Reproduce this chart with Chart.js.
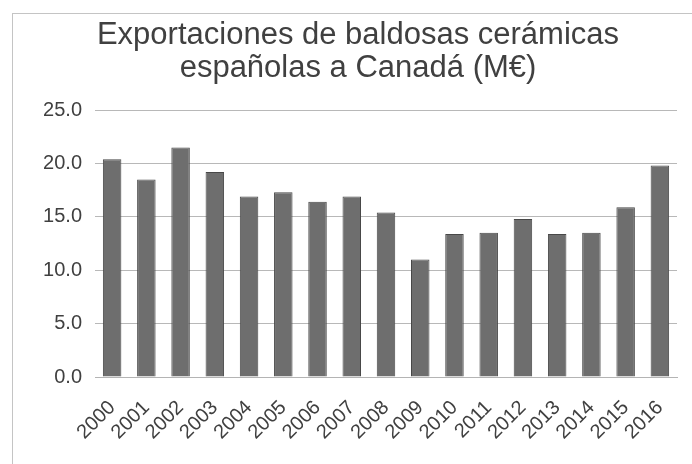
<!DOCTYPE html>
<html>
<head>
<meta charset="utf-8">
<script src="https://cdn.jsdelivr.net/npm/chart.js@4"></script>
<style>
html,body{margin:0;padding:0;background:#fff;overflow:hidden;}
#wrap{width:714px;height:464px;position:relative;}
</style>
</head>
<body>
<div id="wrap"><canvas id="c"></canvas></div>
<script>
const titleLines = ['Exportaciones de baldosas cerámicas', 'españolas a Canadá (M€)'];
const years = ['2000','2001','2002','2003','2004','2005','2006','2007','2008','2009','2010','2011','2012','2013','2014','2015','2016'];
const exportsMEur = [20.4, 18.5, 21.5, 19.2, 16.9, 17.3, 16.4, 16.9, 15.4, 11.0, 13.4, 13.5, 14.8, 13.4, 13.5, 15.9, 19.8];
const yTicks = [0, 5, 10, 15, 20, 25];

const frame = {
  id: 'frame',
  beforeDraw(chart) {
    const ctx = chart.ctx;
    ctx.save();
    ctx.fillStyle = '#fff';
    ctx.fillRect(0, 0, chart.width, chart.height);
    ctx.strokeStyle = '#c4c4c4';
    ctx.lineWidth = 1;
    ctx.strokeRect(12.5, 13.5, 690, 520);
    ctx.restore();
  }
};

const font = "'Liberation Sans', Arial, sans-serif";
new Chart(document.getElementById('c'), {
  type: 'bar',
  data: {
    labels: years,
    datasets: [{
      data: exportsMEur,
      backgroundColor: '#6e6e6e',
      borderColor: '#484848',
      borderWidth: 1,
      barPercentage: 0.54,
      categoryPercentage: 1
    }]
  },
  options: {
    responsive: true,
    maintainAspectRatio: false,
    animation: false,
    devicePixelRatio: 1,
    layout: { padding: { left: 12, right: 10, top: 13, bottom: 0 } },
    plugins: {
      legend: { display: false },
      tooltip: { enabled: false },
      title: {
        display: true,
        text: titleLines,
        color: '#404040',
        font: { family: font, size: 31, weight: 'normal', lineHeight: 1.07 },
        padding: { top: 6, bottom: 24.7 }
      }
    },
    scales: {
      x: {
        grid: { display: false, drawTicks: false },
        border: { display: true, color: '#b4b4b4', width: 1 },
        ticks: {
          color: '#404040',
          font: { family: font, size: 20 },
          maxRotation: 45, minRotation: 45,
          autoSkip: false,
          padding: 19
        },
        afterFit(s) { s.height = 87; }
      },
      y: {
        min: 0, max: 25,
        afterBuildTicks(s) { s.ticks = yTicks.map(v => ({ value: v })); },
        grid: { color: '#b8b8b8', lineWidth: 1, drawTicks: false },
        border: { display: false },
        ticks: {
          color: '#404040',
          font: { family: font, size: 20 },
          padding: 13,
          callback: v => Number(v).toFixed(1)
        },
        afterFit(s) { s.width = 83; }
      },
      y2: {
        position: 'right',
        display: true,
        grid: { display: false, drawTicks: false },
        border: { display: false },
        ticks: { display: false },
        afterFit(s) { s.width = 27; }
      }
    }
  },
  plugins: [frame]
});
</script>
</body>
</html>
